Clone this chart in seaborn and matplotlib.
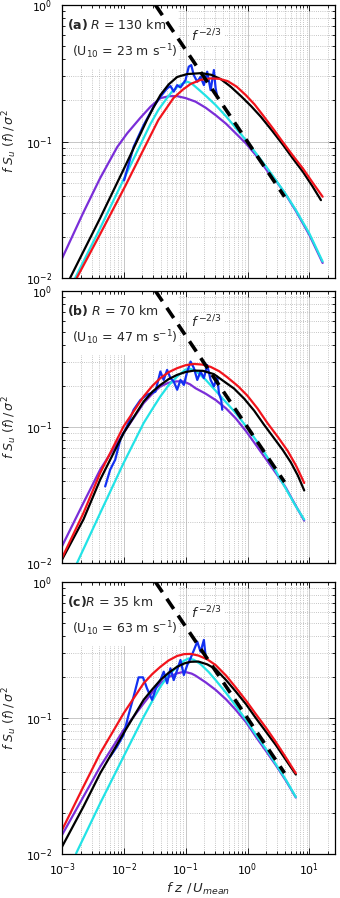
import numpy as np
import seaborn as sns
import matplotlib.pyplot as plt
from matplotlib.patches import Rectangle
from matplotlib.ticker import LogLocator, NullFormatter

# ---- values (f z / U_mean , f S_u(f) / sigma^2) ----
PANEL_TAGS = ['(a)', '(b)', '(c)']
RADIUS_KM = [130, 70, 35]
U10 = [23, 47, 63]

# panel (a)
PURPLE_A_X = [0.00100, 0.00219, 0.00414, 0.00782, 0.01135, 0.01845, 0.027, 0.0390, 0.055, 0.0728, 0.100, 0.144,
              0.21, 0.305, 0.45, 0.643, 0.95, 1.36, 2.21, 2.87, 4.2, 6.05, 10.0, 16.4]
PURPLE_A_Y = [0.0139, 0.0299, 0.0540, 0.0912, 0.115, 0.149, 0.180, 0.208, 0.215, 0.215, 0.208, 0.196,
              0.177, 0.156, 0.135, 0.115, 0.0965, 0.0796, 0.0588, 0.0518, 0.0405, 0.0310, 0.0207, 0.0129]
CYAN_A_X = [0.00163, 0.00414, 0.01054, 0.0268, 0.036, 0.0470, 0.060, 0.0764, 0.092, 0.107, 0.125, 0.144,
            0.21, 0.305, 0.45, 0.643, 0.95, 1.36, 2.0, 2.87, 4.2, 6.05, 10.0, 16.4]
CYAN_A_Y = [0.0100, 0.0232, 0.0559, 0.134, 0.170, 0.201, 0.232, 0.255, 0.268, 0.274, 0.266, 0.252,
            0.217, 0.185, 0.153, 0.126, 0.102, 0.0824, 0.0655, 0.0522, 0.0408, 0.0315, 0.0212, 0.0132]
BLACK_A_X = [0.00135, 0.00414, 0.01054, 0.0237, 0.0304, 0.0390, 0.053, 0.0728, 0.105, 0.18, 0.26, 0.367,
             0.53, 0.776, 1.14, 1.64, 2.5, 3.72, 5.4, 7.87, 11.0, 15.4]
BLACK_A_Y = [0.0100, 0.0275, 0.0662, 0.144, 0.179, 0.219, 0.262, 0.297, 0.312, 0.317, 0.308, 0.287,
             0.253, 0.216, 0.182, 0.152, 0.120, 0.0950, 0.0752, 0.0600, 0.0477, 0.0372]
RED_A_X = [0.00173, 0.00414, 0.01054, 0.0222, 0.0362, 0.0633, 0.090, 0.120, 0.175, 0.253, 0.35, 0.478,
           0.67, 0.936, 1.3, 1.77, 2.6, 3.72, 5.4, 7.87, 11.3, 16.4]
RED_A_Y = [0.0100, 0.0210, 0.0472, 0.0927, 0.144, 0.208, 0.240, 0.264, 0.283, 0.290, 0.288, 0.277,
           0.252, 0.219, 0.187, 0.156, 0.124, 0.0991, 0.0790, 0.0634, 0.0500, 0.0394]
BLUE_A_X = [0.0101, 0.0144, 0.0209, 0.0303, 0.0390, 0.0501, 0.0567, 0.0641, 0.0728, 0.0824, 0.0994, 0.112,
            0.123, 0.135, 0.154, 0.174, 0.197, 0.223, 0.253, 0.286, 0.305, 0.324]
BLUE_A_Y = [0.052, 0.0916, 0.132, 0.180, 0.213, 0.245, 0.255, 0.232, 0.259, 0.249, 0.282, 0.353,
            0.363, 0.307, 0.274, 0.298, 0.259, 0.325, 0.238, 0.334, 0.245, 0.213]

# panel (b)
PURPLE_B_X = [0.00100, 0.00222, 0.00414, 0.00989, 0.0209, 0.0290, 0.0390, 0.0520, 0.0641, 0.0800, 0.0931,
              0.118, 0.144, 0.21, 0.305, 0.45, 0.643, 0.95, 1.36, 2.0, 2.87, 4.17, 6.0, 8.26]
PURPLE_B_Y = [0.0133, 0.0277, 0.0486, 0.0903, 0.150, 0.176, 0.199, 0.211, 0.216, 0.217, 0.216,
              0.206, 0.193, 0.176, 0.158, 0.137, 0.116, 0.0930, 0.0741, 0.0580, 0.0459, 0.0358, 0.0265, 0.0205]
CYAN_B_X = [0.00173, 0.00414, 0.00989, 0.0209, 0.0290, 0.0390, 0.0530, 0.0728, 0.0994, 0.118, 0.144,
            0.21, 0.305, 0.45, 0.643, 0.95, 1.36, 2.0, 2.87, 4.17, 6.0, 8.26]
CYAN_B_Y = [0.0099, 0.0233, 0.0543, 0.107, 0.136, 0.168, 0.203, 0.235, 0.265, 0.268, 0.260,
            0.223, 0.185, 0.152, 0.127, 0.101, 0.0806, 0.0620, 0.0474, 0.0352, 0.0263, 0.0209]
BLACK_B_X = [0.00100, 0.00222, 0.00414, 0.00989, 0.0209, 0.0290, 0.0390, 0.0530, 0.0728, 0.100, 0.136,
             0.19, 0.286, 0.42, 0.604, 0.88, 1.28, 1.85, 2.69, 3.7, 5.02, 6.5, 8.26]
BLACK_B_Y = [0.0106, 0.0209, 0.0410, 0.0903, 0.154, 0.182, 0.204, 0.225, 0.242, 0.254, 0.260,
             0.259, 0.245, 0.216, 0.192, 0.162, 0.132, 0.104, 0.0827, 0.0680, 0.0550, 0.0441, 0.0342]
RED_B_X = [0.00100, 0.00222, 0.00414, 0.00989, 0.0209, 0.0290, 0.0390, 0.0530, 0.0728, 0.100, 0.136,
           0.185, 0.253, 0.35, 0.472, 0.70, 0.996, 1.45, 2.10, 3.1, 4.45, 6.1, 8.26]
RED_B_Y = [0.0109, 0.0233, 0.0459, 0.101, 0.168, 0.201, 0.229, 0.253, 0.271, 0.285, 0.291,
           0.288, 0.277, 0.257, 0.232, 0.200, 0.170, 0.137, 0.107, 0.0845, 0.0669, 0.0520, 0.0388]
BLUE_B_X = [0.00499, 0.00601, 0.00725, 0.00874, 0.0112, 0.0144, 0.0185, 0.0237, 0.0324, 0.0390, 0.0441, 0.0501,
            0.0567, 0.0641, 0.0728, 0.0824, 0.0934, 0.106, 0.120, 0.136, 0.154, 0.174, 0.197, 0.223, 0.253,
            0.286, 0.324, 0.345, 0.376, 0.390]
BLUE_B_Y = [0.0366, 0.0486, 0.0575, 0.0806, 0.101, 0.134, 0.158, 0.173, 0.182, 0.256, 0.222, 0.263,
            0.229, 0.216, 0.188, 0.222, 0.204, 0.256, 0.303, 0.271, 0.222, 0.256, 0.229, 0.286, 0.222,
            0.199, 0.235, 0.177, 0.158, 0.134]

# panel (c)
PURPLE_C_X = [0.00100, 0.00222, 0.00414, 0.00989, 0.0209, 0.0290, 0.0390, 0.0530, 0.0728, 0.095, 0.125, 0.144,
              0.21, 0.305, 0.45, 0.643, 0.95, 1.36, 2.0, 2.87, 4.2, 6.05]
PURPLE_C_Y = [0.0138, 0.0264, 0.0438, 0.0816, 0.128, 0.155, 0.180, 0.200, 0.213, 0.219, 0.212, 0.205,
              0.183, 0.161, 0.137, 0.115, 0.0930, 0.0730, 0.0570, 0.0450, 0.0345, 0.0260]
CYAN_C_X = [0.00169, 0.00414, 0.00989, 0.0209, 0.0290, 0.0390, 0.0530, 0.0728, 0.092, 0.111, 0.135, 0.174,
            0.235, 0.305, 0.45, 0.643, 0.95, 1.36, 2.0, 2.87, 4.2, 6.05]
CYAN_C_Y = [0.0101, 0.0236, 0.0520, 0.102, 0.134, 0.170, 0.207, 0.238, 0.262, 0.274, 0.268, 0.249,
            0.218, 0.190, 0.153, 0.123, 0.0965, 0.0755, 0.0590, 0.0458, 0.0350, 0.0262]
BLACK_C_X = [0.00100, 0.00222, 0.00414, 0.00989, 0.0209, 0.0290, 0.0390, 0.0530, 0.0728, 0.095, 0.120, 0.160,
             0.223, 0.305, 0.45, 0.643, 0.95, 1.36, 2.0, 2.87, 4.2, 6.05]
BLACK_C_Y = [0.0113, 0.0223, 0.0392, 0.0771, 0.136, 0.163, 0.190, 0.215, 0.238, 0.252, 0.259, 0.260,
             0.248, 0.229, 0.190, 0.157, 0.126, 0.100, 0.0790, 0.0633, 0.0490, 0.0384]
RED_C_X = [0.00100, 0.00222, 0.00414, 0.00989, 0.0209, 0.0290, 0.0390, 0.0530, 0.0728, 0.095, 0.120, 0.160,
           0.223, 0.305, 0.45, 0.643, 0.95, 1.36, 2.0, 2.87, 4.2, 6.05]
RED_C_Y = [0.0150, 0.0313, 0.0550, 0.108, 0.180, 0.211, 0.238, 0.265, 0.286, 0.295, 0.296, 0.288,
           0.270, 0.245, 0.205, 0.168, 0.134, 0.107, 0.0845, 0.0666, 0.0510, 0.0392]
BLUE_C_X = [0.00601, 0.00773, 0.00989, 0.0119, 0.0144, 0.0173, 0.0204, 0.0237, 0.0286, 0.0344, 0.0390, 0.0442,
            0.0501, 0.0567, 0.0641, 0.0728, 0.0824, 0.0934, 0.106, 0.120, 0.136, 0.154, 0.174, 0.197, 0.209]
BLUE_C_Y = [0.0520, 0.0615, 0.0750, 0.105, 0.144, 0.199, 0.199, 0.165, 0.136, 0.175, 0.190, 0.219,
            0.180, 0.232, 0.190, 0.225, 0.267, 0.207, 0.245, 0.275, 0.316, 0.364, 0.307, 0.375, 0.291]

# f^(-2/3) reference line
DASH_X = [0.0325, 3.97]
DASH_Y = [1.0, 0.0394]

PURPLE = '#7a2ed8'
CYAN = '#22e3e6'
BLUE = '#1230f2'
RED = '#f2141c'

sns.set_style("ticks")
plt.rcParams['font.family'] = ['DejaVu Sans']
plt.rcParams['mathtext.fontset'] = 'dejavusans'

panels = [
    [(PURPLE_A_X, PURPLE_A_Y), (CYAN_A_X, CYAN_A_Y), (BLUE_A_X, BLUE_A_Y), (BLACK_A_X, BLACK_A_Y), (RED_A_X, RED_A_Y)],
    [(PURPLE_B_X, PURPLE_B_Y), (CYAN_B_X, CYAN_B_Y), (BLUE_B_X, BLUE_B_Y), (BLACK_B_X, BLACK_B_Y), (RED_B_X, RED_B_Y)],
    [(PURPLE_C_X, PURPLE_C_Y), (CYAN_C_X, CYAN_C_Y), (BLUE_C_X, BLUE_C_Y), (BLACK_C_X, BLACK_C_Y), (RED_C_X, RED_C_Y)],
]
colors = [PURPLE, CYAN, BLUE, 'black', RED]
boxes = [[0.1824, 0.6904, 0.8029, 0.3040],
         [0.1824, 0.3730, 0.8029, 0.3029],
         [0.1824, 0.0490, 0.8029, 0.3029]]

fig = plt.figure(figsize=(3.4, 8.98), dpi=100)

for i, curves in enumerate(panels):
    ax = fig.add_axes(boxes[i])
    ax.set_xscale('log')
    ax.set_yscale('log')

    for (xs, ys), col in zip(curves, colors):
        sns.lineplot(x=xs, y=ys, ax=ax, color=col, lw=1.6, estimator=None, sort=False, legend=False)
    sns.lineplot(x=DASH_X, y=DASH_Y, ax=ax, color='black', lw=2.6, ls=(0, (3.4, 2.2)),
                 estimator=None, sort=False, legend=False)

    ax.set_xlim(1e-3, 26)
    ax.set_ylim(1e-2, 1)

    for axis in (ax.xaxis, ax.yaxis):
        axis.set_major_locator(LogLocator(base=10, numticks=20))
        axis.set_minor_locator(LogLocator(base=10, subs=np.arange(2, 10), numticks=20))
        axis.set_minor_formatter(NullFormatter())

    ax.set_axisbelow(True)
    ax.grid(True, which='major', color='#c6c6c6', lw=0.7, ls='-')
    ax.grid(True, which='minor', color='#b2b2b2', lw=0.6, ls=(0, (1, 1.6)))
    ax.tick_params(which='both', direction='in', top=True, right=True, width=0.6, colors='black')
    ax.tick_params(which='major', length=4, labelsize=7.8, pad=5)
    ax.tick_params(axis='y', which='major', pad=7)
    ax.tick_params(which='minor', length=2)
    for s in ax.spines.values():
        s.set_linewidth(0.9)
        s.set_color('black')

    # white label area in the upper left corner
    ax.add_patch(Rectangle((0.015, 0.765), 0.41, 0.22, transform=ax.transAxes,
                           facecolor='white', edgecolor='none', zorder=1))

    sep = '' if i == 2 else ' '
    ax.text(0.018, 0.93, r'$\mathbf{' + PANEL_TAGS[i] + r'}$' + sep + r'$R$ = %d km' % RADIUS_KM[i],
            transform=ax.transAxes, fontsize=9, va='center', ha='left', zorder=5)
    ax.text(0.037, 0.828, r'(U$_{10}$ = %d m s$^{-1}$)' % U10[i],
            transform=ax.transAxes, fontsize=9, va='center', ha='left', zorder=5)
    ax.text(0.474, 0.885, r'$f^{\,\mathrm{-2/3}}$', transform=ax.transAxes, fontsize=9.5,
            va='center', ha='left', zorder=5,
            bbox=dict(facecolor='white', edgecolor='none', pad=1.0))

    ax.set_ylabel(r'$f\ S_u\ (f)\,/\,\sigma^2$', fontsize=9)
    ax.yaxis.set_label_coords(-0.157, 0.5)
    if i < 2:
        ax.tick_params(labelbottom=False)
        ax.set_xlabel('')
    else:
        ax.set_xlabel(r'$f\ z\ /\,U_{mean}$', fontsize=9.5)
        ax.xaxis.set_label_coords(0.5, -0.098)

fig.savefig('out.png', dpi=100)
